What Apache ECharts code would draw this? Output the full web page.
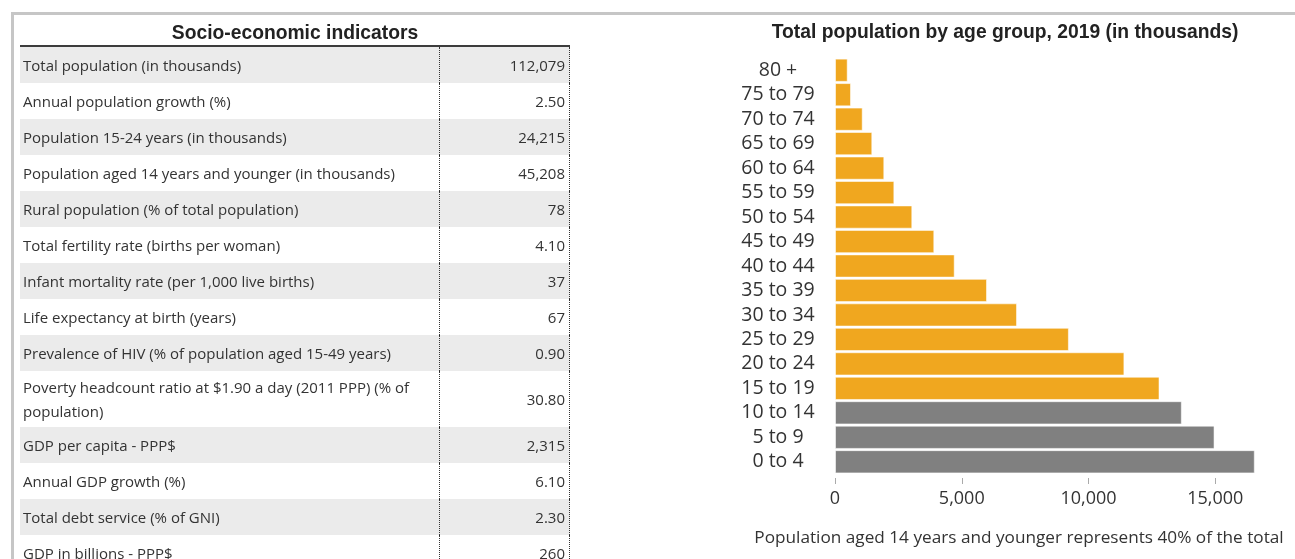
<!DOCTYPE html>
<html>
<head>
<meta charset="utf-8">
<script src="https://cdn.jsdelivr.net/npm/echarts@6/dist/echarts.min.js"></script>
<style>
  html, body { margin: 0; padding: 0; background: #fff; }
  body { width: 1295px; height: 559px; overflow: hidden; position: relative; }
  #frame {
    position: absolute; left: 11px; top: 12px; width: 1400px; height: 700px;
    border-top: 3px solid #c6c6c6; border-left: 3px solid #c6c6c6;
  }
  #chart { position: absolute; left: 0; top: 0; width: 1295px; height: 559px; }
  #tableTitle {
    position: absolute; left: 20px; width: 550px; top: 21px; text-align: center;
    font: bold 19.3px "Liberation Sans", Arial, sans-serif; color: #222; line-height: 24px;
  }
  #table {
    position: absolute; left: 20px; top: 45px; width: 550px;
    border-top: 2px solid #3c3c3c;
    font-family: "Open Sans", sans-serif; font-size: 15px; color: #333;
  }
  .row { display: flex; height: 36px; }
  .row.tall { height: 56px; }
  .row.shade { background: #ebebeb; }
  .cell-label {
    width: 420px; box-sizing: border-box; padding-left: 3px; display: flex; align-items: center;
    line-height: 24px; border-right: 1px dotted #333;
  }
  .cell-value {
    width: 130px; box-sizing: border-box; padding-right: 4px; display: flex; align-items: center;
    justify-content: flex-end; border-right: 1px dotted #333;
  }
</style>
</head>
<body>
<div id="frame"></div>
<div id="chart"></div>
<div id="tableTitle">Socio-economic indicators</div>
<div id="table"></div>
<script>
// Socio-economic indicators (left table)
const indicatorLabels = [
  'Total population (in thousands)',
  'Annual population growth (%)',
  'Population 15-24 years (in thousands)',
  'Population aged 14 years and younger (in thousands)',
  'Rural population (% of total population)',
  'Total fertility rate (births per woman)',
  'Infant mortality rate (per 1,000 live births)',
  'Life expectancy at birth (years)',
  'Prevalence of HIV (% of population aged 15-49 years)',
  'Poverty headcount ratio at $1.90 a day (2011 PPP) (% of population)',
  'GDP per capita - PPP$',
  'Annual GDP growth (%)',
  'Total debt service (% of GNI)',
  'GDP in billions - PPP$'
];
const indicatorValues = [
  '112,079', '2.50', '24,215', '45,208', '78', '4.10', '37', '67',
  '0.90', '30.80', '2,315', '6.10', '2.30', '260'
];

// Population pyramid (right chart), bottom to top
const ageGroups = [
  '0 to 4', '5 to 9', '10 to 14', '15 to 19', '20 to 24', '25 to 29',
  '30 to 34', '35 to 39', '40 to 44', '45 to 49', '50 to 54', '55 to 59',
  '60 to 64', '65 to 69', '70 to 74', '75 to 79', '80 +'
];
const populationThousands = [
  16558, 14970, 13680, 12800, 11415, 9225, 7180, 5996, 4722,
  3917, 3049, 2341, 1945, 1471, 1093, 631, 501
];
const under15Groups = ['0 to 4', '5 to 9', '10 to 14'];
const xTickValues = [0, 5000, 10000, 15000];

const chartTitle = 'Total population by age group, 2019 (in thousands)';
const chartNote = 'Population aged 14 years and younger represents 40% of the total';

// build the indicator table
const table = document.getElementById('table');
indicatorLabels.forEach(function (label, i) {
  const row = document.createElement('div');
  row.className = 'row' + (i % 2 === 0 ? ' shade' : '') + (label.length > 60 ? ' tall' : '');
  const l = document.createElement('div');
  l.className = 'cell-label';
  l.textContent = label;
  if (label.length > 60) { l.style.paddingRight = '16px'; }
  const v = document.createElement('div');
  v.className = 'cell-value';
  v.textContent = indicatorValues[i];
  row.appendChild(l);
  row.appendChild(v);
  table.appendChild(row);
});

const chart = echarts.init(document.getElementById('chart'), null, { renderer: 'canvas' });
chart.setOption({
  animation: false,
  grid: { left: 835, top: 58, width: 431, height: 416 },
  graphic: [
    {
      type: 'text', x: 1005, y: 33,
      style: {
        text: chartTitle, align: 'center', verticalAlign: 'middle',
        font: 'bold 19.3px "Liberation Sans", Arial, sans-serif', fill: '#222'
      }
    },
    {
      type: 'text', x: 1019, y: 538,
      style: {
        text: chartNote, align: 'center', verticalAlign: 'middle',
        font: '17.2px "Open Sans", sans-serif', fill: '#333'
      }
    }
  ],
  xAxis: {
    type: 'value', min: 0, max: 17000, offset: 4,
    splitLine: { show: false },
    axisLine: { show: false },
    axisTick: { show: true, length: 6, lineStyle: { color: '#aaa' }, customValues: xTickValues },
    axisLabel: {
      customValues: xTickValues, margin: 12,
      fontSize: 18, color: '#333', fontFamily: 'Open Sans',
      formatter: function (v) { return Number(v).toLocaleString('en-US'); }
    }
  },
  yAxis: {
    type: 'category', data: ageGroups,
    axisLine: { show: false }, axisTick: { show: false },
    axisLabel: {
      interval: 0, hideOverlap: false,
      align: 'center', margin: 57, fontSize: 19.5, color: '#333', fontFamily: 'Open Sans'
    }
  },
  series: [{
    type: 'bar',
    data: populationThousands,
    barCategoryGap: '5%',
    itemStyle: {
      borderColor: 'rgba(255,255,255,0.55)', borderWidth: 1,
      color: function (p) {
        return under15Groups.indexOf(ageGroups[p.dataIndex]) >= 0 ? '#808080' : '#f0a71f';
      }
    }
  }]
});
</script>
</body>
</html>
